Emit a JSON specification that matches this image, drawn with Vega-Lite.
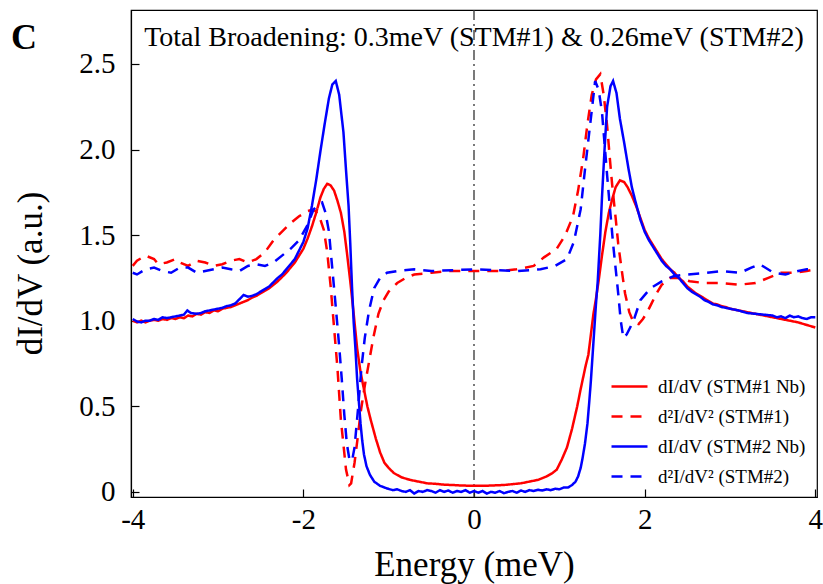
{
"$schema":"https://vega.github.io/schema/vega-lite/v6.json",
"width":686,"height":487,"autosize":"none",
"padding":{"left":131,"top":10,"right":6,"bottom":87},
"config":{"view":{"stroke":"black","strokeWidth":1.2},"font":"Liberation Serif",
"axis":{"grid":false,"domainColor":"black","tickColor":"black","labelColor":"black","titleColor":"black","labelFont":"Liberation Serif","titleFont":"Liberation Serif","titleFontWeight":"normal","tickWidth":1.2,"domainWidth":1.2}},
"layer":[
{"data":{"values":[{}]},"mark":{"type":"rule","color":"#333333","strokeWidth":1.3,"strokeDash":[10,4,2,4]},"encoding":{"x":{"datum":0,"type":"quantitative","scale":{"domain":[-4.02,4.02],"nice":false,"zero":false}}}},
{"data":{"values":[
{"s":"R1","e":-4.0,"v":1.0},{"s":"R1","e":-3.95,"v":0.99},{"s":"R1","e":-3.9,"v":1.0},{"s":"R1","e":-3.85,"v":0.99},{"s":"R1","e":-3.8,"v":1.0},{"s":"R1","e":-3.75,"v":1.005},{"s":"R1","e":-3.7,"v":1.0},{"s":"R1","e":-3.65,"v":1.01},{"s":"R1","e":-3.6,"v":1.005},{"s":"R1","e":-3.55,"v":1.015},{"s":"R1","e":-3.5,"v":1.01},{"s":"R1","e":-3.45,"v":1.02},{"s":"R1","e":-3.4,"v":1.015},{"s":"R1","e":-3.35,"v":1.03},{"s":"R1","e":-3.3,"v":1.025},{"s":"R1","e":-3.25,"v":1.04},{"s":"R1","e":-3.2,"v":1.035},{"s":"R1","e":-3.15,"v":1.05},{"s":"R1","e":-3.1,"v":1.045},{"s":"R1","e":-3.05,"v":1.06},{"s":"R1","e":-3.0,"v":1.055},{"s":"R1","e":-2.95,"v":1.07},{"s":"R1","e":-2.9,"v":1.075},{"s":"R1","e":-2.85,"v":1.08},{"s":"R1","e":-2.8,"v":1.09},{"s":"R1","e":-2.75,"v":1.1},{"s":"R1","e":-2.7,"v":1.11},{"s":"R1","e":-2.65,"v":1.12},{"s":"R1","e":-2.6,"v":1.135},{"s":"R1","e":-2.55,"v":1.145},{"s":"R1","e":-2.5,"v":1.16},{"s":"R1","e":-2.45,"v":1.175},{"s":"R1","e":-2.4,"v":1.19},{"s":"R1","e":-2.35,"v":1.21},{"s":"R1","e":-2.3,"v":1.23},{"s":"R1","e":-2.25,"v":1.255},{"s":"R1","e":-2.2,"v":1.28},{"s":"R1","e":-2.15,"v":1.31},{"s":"R1","e":-2.1,"v":1.34},{"s":"R1","e":-2.05,"v":1.38},{"s":"R1","e":-2.0,"v":1.42},{"s":"R1","e":-1.95,"v":1.48},{"s":"R1","e":-1.9,"v":1.55},{"s":"R1","e":-1.85,"v":1.63},{"s":"R1","e":-1.8,"v":1.72},{"s":"R1","e":-1.76,"v":1.77},{"s":"R1","e":-1.72,"v":1.8},{"s":"R1","e":-1.68,"v":1.79},{"s":"R1","e":-1.64,"v":1.76},{"s":"R1","e":-1.6,"v":1.7},{"s":"R1","e":-1.56,"v":1.63},{"s":"R1","e":-1.52,"v":1.52},{"s":"R1","e":-1.49,"v":1.4},{"s":"R1","e":-1.45,"v":1.23},{"s":"R1","e":-1.41,"v":1.04},{"s":"R1","e":-1.37,"v":0.84},{"s":"R1","e":-1.33,"v":0.7},{"s":"R1","e":-1.29,"v":0.6},{"s":"R1","e":-1.25,"v":0.5},{"s":"R1","e":-1.21,"v":0.42},{"s":"R1","e":-1.15,"v":0.31},{"s":"R1","e":-1.1,"v":0.23},{"s":"R1","e":-1.05,"v":0.17},{"s":"R1","e":-1.0,"v":0.14},{"s":"R1","e":-0.94,"v":0.11},{"s":"R1","e":-0.85,"v":0.085},{"s":"R1","e":-0.75,"v":0.07},{"s":"R1","e":-0.65,"v":0.06},{"s":"R1","e":-0.55,"v":0.05},{"s":"R1","e":-0.45,"v":0.047},{"s":"R1","e":-0.35,"v":0.042},{"s":"R1","e":-0.25,"v":0.04},{"s":"R1","e":-0.15,"v":0.037},{"s":"R1","e":-0.05,"v":0.036},{"s":"R1","e":0.05,"v":0.035},{"s":"R1","e":0.15,"v":0.036},{"s":"R1","e":0.25,"v":0.038},{"s":"R1","e":0.35,"v":0.04},{"s":"R1","e":0.45,"v":0.045},{"s":"R1","e":0.55,"v":0.05},{"s":"R1","e":0.65,"v":0.06},{"s":"R1","e":0.75,"v":0.07},{"s":"R1","e":0.85,"v":0.09},{"s":"R1","e":0.92,"v":0.11},{"s":"R1","e":0.97,"v":0.13},{"s":"R1","e":1.03,"v":0.19},{"s":"R1","e":1.09,"v":0.26},{"s":"R1","e":1.15,"v":0.37},{"s":"R1","e":1.21,"v":0.5},{"s":"R1","e":1.25,"v":0.6},{"s":"R1","e":1.28,"v":0.67},{"s":"R1","e":1.31,"v":0.74},{"s":"R1","e":1.34,"v":0.8},{"s":"R1","e":1.37,"v":0.92},{"s":"R1","e":1.4,"v":1.04},{"s":"R1","e":1.43,"v":1.13},{"s":"R1","e":1.46,"v":1.23},{"s":"R1","e":1.5,"v":1.38},{"s":"R1","e":1.54,"v":1.52},{"s":"R1","e":1.58,"v":1.63},{"s":"R1","e":1.62,"v":1.71},{"s":"R1","e":1.66,"v":1.78},{"s":"R1","e":1.71,"v":1.82},{"s":"R1","e":1.76,"v":1.81},{"s":"R1","e":1.8,"v":1.78},{"s":"R1","e":1.85,"v":1.73},{"s":"R1","e":1.9,"v":1.67},{"s":"R1","e":1.95,"v":1.6},{"s":"R1","e":2.0,"v":1.53},{"s":"R1","e":2.05,"v":1.48},{"s":"R1","e":2.1,"v":1.44},{"s":"R1","e":2.15,"v":1.4},{"s":"R1","e":2.2,"v":1.36},{"s":"R1","e":2.25,"v":1.33},{"s":"R1","e":2.3,"v":1.3},{"s":"R1","e":2.35,"v":1.28},{"s":"R1","e":2.4,"v":1.25},{"s":"R1","e":2.45,"v":1.23},{"s":"R1","e":2.5,"v":1.2},{"s":"R1","e":2.55,"v":1.18},{"s":"R1","e":2.6,"v":1.16},{"s":"R1","e":2.65,"v":1.145},{"s":"R1","e":2.7,"v":1.13},{"s":"R1","e":2.75,"v":1.115},{"s":"R1","e":2.8,"v":1.1},{"s":"R1","e":2.85,"v":1.095},{"s":"R1","e":2.9,"v":1.085},{"s":"R1","e":2.95,"v":1.08},{"s":"R1","e":3.0,"v":1.07},{"s":"R1","e":3.1,"v":1.06},{"s":"R1","e":3.2,"v":1.05},{"s":"R1","e":3.3,"v":1.04},{"s":"R1","e":3.4,"v":1.03},{"s":"R1","e":3.5,"v":1.02},{"s":"R1","e":3.6,"v":1.01},{"s":"R1","e":3.7,"v":1.0},{"s":"R1","e":3.8,"v":0.99},{"s":"R1","e":3.9,"v":0.975},{"s":"R1","e":4.0,"v":0.96},
{"s":"R2","e":-4.0,"v":1.32},{"s":"R2","e":-3.95,"v":1.35},{"s":"R2","e":-3.85,"v":1.38},{"s":"R2","e":-3.75,"v":1.36},{"s":"R2","e":-3.7,"v":1.33},{"s":"R2","e":-3.6,"v":1.34},{"s":"R2","e":-3.5,"v":1.36},{"s":"R2","e":-3.45,"v":1.34},{"s":"R2","e":-3.35,"v":1.32},{"s":"R2","e":-3.25,"v":1.35},{"s":"R2","e":-3.15,"v":1.34},{"s":"R2","e":-3.05,"v":1.32},{"s":"R2","e":-2.95,"v":1.33},{"s":"R2","e":-2.85,"v":1.35},{"s":"R2","e":-2.75,"v":1.36},{"s":"R2","e":-2.65,"v":1.34},{"s":"R2","e":-2.55,"v":1.36},{"s":"R2","e":-2.45,"v":1.4},{"s":"R2","e":-2.35,"v":1.47},{"s":"R2","e":-2.25,"v":1.52},{"s":"R2","e":-2.15,"v":1.57},{"s":"R2","e":-2.05,"v":1.61},{"s":"R2","e":-1.95,"v":1.64},{"s":"R2","e":-1.88,"v":1.65},{"s":"R2","e":-1.82,"v":1.62},{"s":"R2","e":-1.76,"v":1.53},{"s":"R2","e":-1.72,"v":1.4},{"s":"R2","e":-1.68,"v":1.2},{"s":"R2","e":-1.64,"v":0.96},{"s":"R2","e":-1.6,"v":0.72},{"s":"R2","e":-1.56,"v":0.42},{"s":"R2","e":-1.5,"v":0.13},{"s":"R2","e":-1.46,"v":0.04},{"s":"R2","e":-1.44,"v":0.05},{"s":"R2","e":-1.4,"v":0.17},{"s":"R2","e":-1.36,"v":0.33},{"s":"R2","e":-1.33,"v":0.46},{"s":"R2","e":-1.28,"v":0.62},{"s":"R2","e":-1.23,"v":0.76},{"s":"R2","e":-1.18,"v":0.9},{"s":"R2","e":-1.12,"v":1.04},{"s":"R2","e":-1.06,"v":1.12},{"s":"R2","e":-1.0,"v":1.17},{"s":"R2","e":-0.9,"v":1.22},{"s":"R2","e":-0.8,"v":1.25},{"s":"R2","e":-0.7,"v":1.27},{"s":"R2","e":-0.5,"v":1.28},{"s":"R2","e":-0.3,"v":1.29},{"s":"R2","e":0.0,"v":1.29},{"s":"R2","e":0.3,"v":1.29},{"s":"R2","e":0.5,"v":1.3},{"s":"R2","e":0.7,"v":1.32},{"s":"R2","e":0.82,"v":1.37},{"s":"R2","e":0.97,"v":1.42},{"s":"R2","e":1.07,"v":1.5},{"s":"R2","e":1.16,"v":1.61},{"s":"R2","e":1.22,"v":1.76},{"s":"R2","e":1.28,"v":1.95},{"s":"R2","e":1.33,"v":2.15},{"s":"R2","e":1.38,"v":2.32},{"s":"R2","e":1.43,"v":2.41},{"s":"R2","e":1.48,"v":2.44},{"s":"R2","e":1.52,"v":2.32},{"s":"R2","e":1.56,"v":2.14},{"s":"R2","e":1.59,"v":1.96},{"s":"R2","e":1.62,"v":1.79},{"s":"R2","e":1.66,"v":1.6},{"s":"R2","e":1.69,"v":1.45},{"s":"R2","e":1.73,"v":1.3},{"s":"R2","e":1.77,"v":1.16},{"s":"R2","e":1.82,"v":1.05},{"s":"R2","e":1.87,"v":0.99},{"s":"R2","e":1.93,"v":0.98},{"s":"R2","e":1.98,"v":1.01},{"s":"R2","e":2.03,"v":1.05},{"s":"R2","e":2.08,"v":1.1},{"s":"R2","e":2.14,"v":1.16},{"s":"R2","e":2.2,"v":1.21},{"s":"R2","e":2.3,"v":1.25},{"s":"R2","e":2.4,"v":1.25},{"s":"R2","e":2.53,"v":1.23},{"s":"R2","e":2.7,"v":1.22},{"s":"R2","e":2.9,"v":1.22},{"s":"R2","e":3.1,"v":1.21},{"s":"R2","e":3.3,"v":1.22},{"s":"R2","e":3.45,"v":1.25},{"s":"R2","e":3.6,"v":1.28},{"s":"R2","e":3.75,"v":1.28},{"s":"R2","e":3.9,"v":1.29},{"s":"R2","e":4.0,"v":1.3},
{"s":"B1","e":-4.0,"v":1.01},{"s":"B1","e":-3.95,"v":0.995},{"s":"B1","e":-3.9,"v":0.99},{"s":"B1","e":-3.85,"v":1.0},{"s":"B1","e":-3.8,"v":1.0},{"s":"B1","e":-3.75,"v":1.01},{"s":"B1","e":-3.7,"v":1.005},{"s":"B1","e":-3.65,"v":1.02},{"s":"B1","e":-3.6,"v":1.015},{"s":"B1","e":-3.55,"v":1.02},{"s":"B1","e":-3.5,"v":1.025},{"s":"B1","e":-3.45,"v":1.03},{"s":"B1","e":-3.4,"v":1.035},{"s":"B1","e":-3.36,"v":1.06},{"s":"B1","e":-3.32,"v":1.045},{"s":"B1","e":-3.25,"v":1.04},{"s":"B1","e":-3.2,"v":1.045},{"s":"B1","e":-3.15,"v":1.055},{"s":"B1","e":-3.1,"v":1.06},{"s":"B1","e":-3.05,"v":1.065},{"s":"B1","e":-3.0,"v":1.07},{"s":"B1","e":-2.95,"v":1.075},{"s":"B1","e":-2.9,"v":1.085},{"s":"B1","e":-2.85,"v":1.09},{"s":"B1","e":-2.8,"v":1.1},{"s":"B1","e":-2.75,"v":1.125},{"s":"B1","e":-2.7,"v":1.15},{"s":"B1","e":-2.65,"v":1.14},{"s":"B1","e":-2.6,"v":1.145},{"s":"B1","e":-2.55,"v":1.155},{"s":"B1","e":-2.5,"v":1.17},{"s":"B1","e":-2.45,"v":1.185},{"s":"B1","e":-2.4,"v":1.2},{"s":"B1","e":-2.35,"v":1.225},{"s":"B1","e":-2.3,"v":1.25},{"s":"B1","e":-2.25,"v":1.27},{"s":"B1","e":-2.2,"v":1.3},{"s":"B1","e":-2.15,"v":1.33},{"s":"B1","e":-2.1,"v":1.36},{"s":"B1","e":-2.05,"v":1.41},{"s":"B1","e":-2.0,"v":1.46},{"s":"B1","e":-1.95,"v":1.54},{"s":"B1","e":-1.9,"v":1.67},{"s":"B1","e":-1.85,"v":1.82},{"s":"B1","e":-1.8,"v":1.99},{"s":"B1","e":-1.75,"v":2.15},{"s":"B1","e":-1.7,"v":2.3},{"s":"B1","e":-1.66,"v":2.38},{"s":"B1","e":-1.62,"v":2.4},{"s":"B1","e":-1.58,"v":2.32},{"s":"B1","e":-1.53,"v":2.1},{"s":"B1","e":-1.5,"v":1.88},{"s":"B1","e":-1.47,"v":1.67},{"s":"B1","e":-1.45,"v":1.45},{"s":"B1","e":-1.43,"v":1.2},{"s":"B1","e":-1.41,"v":0.99},{"s":"B1","e":-1.39,"v":0.84},{"s":"B1","e":-1.37,"v":0.66},{"s":"B1","e":-1.35,"v":0.53},{"s":"B1","e":-1.33,"v":0.4},{"s":"B1","e":-1.31,"v":0.3},{"s":"B1","e":-1.29,"v":0.22},{"s":"B1","e":-1.26,"v":0.15},{"s":"B1","e":-1.22,"v":0.1},{"s":"B1","e":-1.17,"v":0.06},{"s":"B1","e":-1.1,"v":0.035},{"s":"B1","e":-1.02,"v":0.02},{"s":"B1","e":-0.95,"v":0.01},{"s":"B1","e":-0.9,"v":0.015},{"s":"B1","e":-0.85,"v":0.005},{"s":"B1","e":-0.8,"v":0.0},{"s":"B1","e":-0.75,"v":0.01},{"s":"B1","e":-0.7,"v":-0.01},{"s":"B1","e":-0.65,"v":0.005},{"s":"B1","e":-0.6,"v":0.0},{"s":"B1","e":-0.55,"v":0.01},{"s":"B1","e":-0.5,"v":0.005},{"s":"B1","e":-0.45,"v":-0.005},{"s":"B1","e":-0.4,"v":0.01},{"s":"B1","e":-0.35,"v":0.0},{"s":"B1","e":-0.3,"v":0.008},{"s":"B1","e":-0.25,"v":-0.005},{"s":"B1","e":-0.2,"v":0.005},{"s":"B1","e":-0.15,"v":0.0},{"s":"B1","e":-0.1,"v":0.01},{"s":"B1","e":-0.05,"v":-0.005},{"s":"B1","e":0.0,"v":0.005},{"s":"B1","e":0.05,"v":-0.005},{"s":"B1","e":0.1,"v":0.005},{"s":"B1","e":0.15,"v":-0.01},{"s":"B1","e":0.2,"v":0.0},{"s":"B1","e":0.25,"v":-0.005},{"s":"B1","e":0.3,"v":0.005},{"s":"B1","e":0.35,"v":-0.008},{"s":"B1","e":0.4,"v":0.0},{"s":"B1","e":0.45,"v":0.005},{"s":"B1","e":0.5,"v":-0.005},{"s":"B1","e":0.55,"v":0.008},{"s":"B1","e":0.6,"v":0.0},{"s":"B1","e":0.65,"v":0.01},{"s":"B1","e":0.7,"v":0.005},{"s":"B1","e":0.75,"v":0.012},{"s":"B1","e":0.8,"v":0.008},{"s":"B1","e":0.85,"v":0.015},{"s":"B1","e":0.9,"v":0.01},{"s":"B1","e":0.95,"v":0.018},{"s":"B1","e":1.0,"v":0.015},{"s":"B1","e":1.05,"v":0.025},{"s":"B1","e":1.1,"v":0.025},{"s":"B1","e":1.15,"v":0.04},{"s":"B1","e":1.19,"v":0.06},{"s":"B1","e":1.22,"v":0.09},{"s":"B1","e":1.25,"v":0.14},{"s":"B1","e":1.27,"v":0.19},{"s":"B1","e":1.3,"v":0.28},{"s":"B1","e":1.33,"v":0.4},{"s":"B1","e":1.35,"v":0.52},{"s":"B1","e":1.37,"v":0.65},{"s":"B1","e":1.39,"v":0.8},{"s":"B1","e":1.41,"v":0.95},{"s":"B1","e":1.43,"v":1.1},{"s":"B1","e":1.45,"v":1.23},{"s":"B1","e":1.48,"v":1.5},{"s":"B1","e":1.5,"v":1.72},{"s":"B1","e":1.53,"v":2.0},{"s":"B1","e":1.56,"v":2.25},{"s":"B1","e":1.6,"v":2.37},{"s":"B1","e":1.63,"v":2.4},{"s":"B1","e":1.67,"v":2.33},{"s":"B1","e":1.71,"v":2.18},{"s":"B1","e":1.76,"v":2.04},{"s":"B1","e":1.81,"v":1.89},{"s":"B1","e":1.85,"v":1.78},{"s":"B1","e":1.89,"v":1.7},{"s":"B1","e":1.95,"v":1.59},{"s":"B1","e":2.0,"v":1.52},{"s":"B1","e":2.05,"v":1.47},{"s":"B1","e":2.1,"v":1.43},{"s":"B1","e":2.15,"v":1.39},{"s":"B1","e":2.2,"v":1.35},{"s":"B1","e":2.25,"v":1.32},{"s":"B1","e":2.3,"v":1.3},{"s":"B1","e":2.35,"v":1.27},{"s":"B1","e":2.4,"v":1.25},{"s":"B1","e":2.45,"v":1.22},{"s":"B1","e":2.5,"v":1.19},{"s":"B1","e":2.55,"v":1.17},{"s":"B1","e":2.6,"v":1.155},{"s":"B1","e":2.65,"v":1.14},{"s":"B1","e":2.7,"v":1.12},{"s":"B1","e":2.75,"v":1.11},{"s":"B1","e":2.8,"v":1.095},{"s":"B1","e":2.85,"v":1.09},{"s":"B1","e":2.9,"v":1.08},{"s":"B1","e":2.95,"v":1.075},{"s":"B1","e":3.0,"v":1.07},{"s":"B1","e":3.1,"v":1.06},{"s":"B1","e":3.2,"v":1.045},{"s":"B1","e":3.3,"v":1.04},{"s":"B1","e":3.4,"v":1.035},{"s":"B1","e":3.5,"v":1.03},{"s":"B1","e":3.55,"v":1.02},{"s":"B1","e":3.6,"v":1.025},{"s":"B1","e":3.65,"v":1.015},{"s":"B1","e":3.7,"v":1.03},{"s":"B1","e":3.75,"v":1.02},{"s":"B1","e":3.8,"v":1.025},{"s":"B1","e":3.85,"v":1.015},{"s":"B1","e":3.9,"v":1.01},{"s":"B1","e":3.95,"v":1.02},{"s":"B1","e":4.0,"v":1.02},
{"s":"B2","e":-4.0,"v":1.28},{"s":"B2","e":-3.95,"v":1.27},{"s":"B2","e":-3.85,"v":1.3},{"s":"B2","e":-3.75,"v":1.31},{"s":"B2","e":-3.65,"v":1.29},{"s":"B2","e":-3.55,"v":1.28},{"s":"B2","e":-3.45,"v":1.31},{"s":"B2","e":-3.35,"v":1.31},{"s":"B2","e":-3.25,"v":1.28},{"s":"B2","e":-3.15,"v":1.29},{"s":"B2","e":-3.05,"v":1.3},{"s":"B2","e":-2.95,"v":1.31},{"s":"B2","e":-2.85,"v":1.3},{"s":"B2","e":-2.75,"v":1.29},{"s":"B2","e":-2.65,"v":1.32},{"s":"B2","e":-2.55,"v":1.33},{"s":"B2","e":-2.45,"v":1.32},{"s":"B2","e":-2.35,"v":1.34},{"s":"B2","e":-2.25,"v":1.38},{"s":"B2","e":-2.15,"v":1.42},{"s":"B2","e":-2.05,"v":1.47},{"s":"B2","e":-1.95,"v":1.56},{"s":"B2","e":-1.88,"v":1.65},{"s":"B2","e":-1.82,"v":1.68},{"s":"B2","e":-1.78,"v":1.69},{"s":"B2","e":-1.74,"v":1.63},{"s":"B2","e":-1.7,"v":1.52},{"s":"B2","e":-1.66,"v":1.3},{"s":"B2","e":-1.62,"v":1.08},{"s":"B2","e":-1.58,"v":0.85},{"s":"B2","e":-1.55,"v":0.66},{"s":"B2","e":-1.52,"v":0.45},{"s":"B2","e":-1.49,"v":0.28},{"s":"B2","e":-1.46,"v":0.19},{"s":"B2","e":-1.43,"v":0.18},{"s":"B2","e":-1.4,"v":0.26},{"s":"B2","e":-1.36,"v":0.48},{"s":"B2","e":-1.32,"v":0.72},{"s":"B2","e":-1.28,"v":0.9},{"s":"B2","e":-1.23,"v":1.06},{"s":"B2","e":-1.17,"v":1.19},{"s":"B2","e":-1.1,"v":1.25},{"s":"B2","e":-1.02,"v":1.28},{"s":"B2","e":-0.9,"v":1.29},{"s":"B2","e":-0.7,"v":1.3},{"s":"B2","e":-0.5,"v":1.29},{"s":"B2","e":0.0,"v":1.3},{"s":"B2","e":0.5,"v":1.29},{"s":"B2","e":0.78,"v":1.3},{"s":"B2","e":0.95,"v":1.32},{"s":"B2","e":1.09,"v":1.36},{"s":"B2","e":1.17,"v":1.46},{"s":"B2","e":1.25,"v":1.65},{"s":"B2","e":1.3,"v":1.88},{"s":"B2","e":1.36,"v":2.14},{"s":"B2","e":1.42,"v":2.4},{"s":"B2","e":1.46,"v":2.35},{"s":"B2","e":1.5,"v":2.22},{"s":"B2","e":1.56,"v":1.85},{"s":"B2","e":1.6,"v":1.62},{"s":"B2","e":1.63,"v":1.45},{"s":"B2","e":1.69,"v":1.16},{"s":"B2","e":1.72,"v":1.0},{"s":"B2","e":1.75,"v":0.9},{"s":"B2","e":1.79,"v":0.92},{"s":"B2","e":1.87,"v":1.0},{"s":"B2","e":1.95,"v":1.12},{"s":"B2","e":2.07,"v":1.19},{"s":"B2","e":2.2,"v":1.23},{"s":"B2","e":2.34,"v":1.26},{"s":"B2","e":2.5,"v":1.27},{"s":"B2","e":2.73,"v":1.28},{"s":"B2","e":2.9,"v":1.29},{"s":"B2","e":3.12,"v":1.28},{"s":"B2","e":3.25,"v":1.31},{"s":"B2","e":3.35,"v":1.33},{"s":"B2","e":3.51,"v":1.28},{"s":"B2","e":3.65,"v":1.27},{"s":"B2","e":3.8,"v":1.29},{"s":"B2","e":3.9,"v":1.3},{"s":"B2","e":4.0,"v":1.3}
]},
"mark":{"type":"line","strokeWidth":2.5,"interpolate":"linear"},
"encoding":{
"x":{"field":"e","type":"quantitative","scale":{"domain":[-4.02,4.02],"nice":false,"zero":false},
"axis":{"values":[-4,-2,0,2,4],"labelExpr":"'' + datum.value","tickSize":-8,"labelPadding":16,"labelFontSize":29,"labelFlush":false,"title":"Energy (meV)","titleFontSize":35,"titlePadding":13}},
"y":{"field":"v","type":"quantitative","scale":{"domain":[-0.03,2.815],"nice":false,"zero":false},
"axis":{"values":[0,0.5,1,1.5,2,2.5],"labelExpr":"datum.value == 0 ? '0' : format(datum.value, '.1f')","tickSize":-8,"labelPadding":24,"labelFontSize":29,"title":"dI/dV (a.u.)","titleFontSize":35,"titlePadding":30,"titleY":263}},
"color":{"field":"s","type":"nominal","scale":{"domain":["R1","R2","B1","B2"],"range":["#ff0000","#ff0000","#0000ff","#0000ff"]},
"legend":{"title":null,"orient":"none","legendX":479,"legendY":357,"padding":0,"symbolType":"stroke","symbolSize":1296,"symbolStrokeWidth":2.5,"labelFont":"Liberation Serif","labelFontSize":19,"labelColor":"black","labelOffset":9,"rowPadding":-1,"labelExpr":"{'R1':'dI/dV (STM#1 Nb)','R2':'d²I/dV² (STM#1)','B1':'dI/dV (STM#2 Nb)','B2':'d²I/dV² (STM#2)'}[datum.value]"}},
"strokeDash":{"field":"s","type":"nominal","scale":{"domain":["R1","R2","B1","B2"],"range":[[1,0],[11,8],[1,0],[11,8]]},
"legend":{"title":null,"orient":"none","legendX":479,"legendY":357,"padding":0,"symbolType":"stroke","symbolSize":1296,"symbolStrokeWidth":2.5,"labelFont":"Liberation Serif","labelFontSize":19,"labelColor":"black","labelOffset":9,"rowPadding":-1,"labelExpr":"{'R1':'dI/dV (STM#1 Nb)','R2':'d²I/dV² (STM#1)','B1':'dI/dV (STM#2 Nb)','B2':'d²I/dV² (STM#2)'}[datum.value]"}}
}},
{"data":{"values":[{}]},"mark":{"type":"text","font":"Liberation Serif","fontSize":28,"baseline":"middle","align":"center","color":"black"},"encoding":{"x":{"datum":0,"type":"quantitative"},"y":{"datum":2.65,"type":"quantitative"},"text":{"value":"Total Broadening: 0.3meV (STM#1) & 0.26meV (STM#2)"}}},
{"data":{"values":[{}]},"mark":{"type":"text","font":"Liberation Serif","fontSize":36,"fontWeight":"bold","baseline":"middle","align":"center","color":"black","dx":-107},"encoding":{"x":{"datum":-4.02,"type":"quantitative"},"y":{"datum":2.65,"type":"quantitative"},"text":{"value":"C"}}}
]
}
